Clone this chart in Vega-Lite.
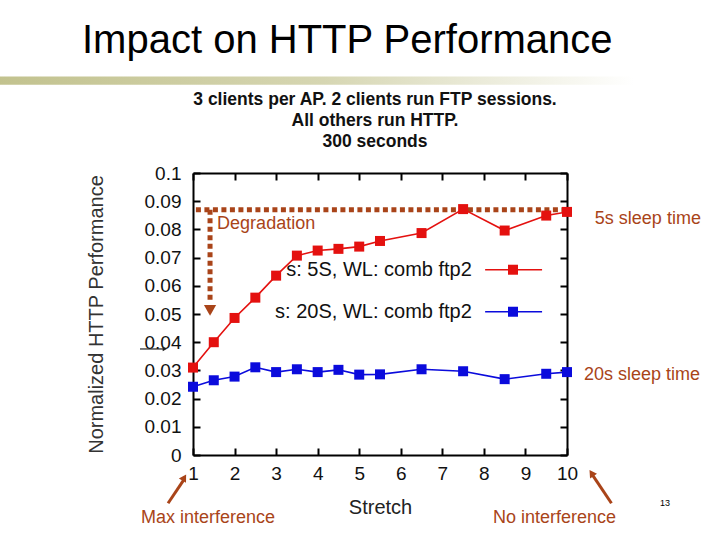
{
  "$schema": "https://vega.github.io/schema/vega-lite/v6.json",
  "width": 374,
  "height": 282,
  "autosize": "none",
  "padding": {"top": 173, "left": 193, "right": 153, "bottom": 85},
  "background": "white",
  "title": {
    "text": "Impact on HTTP Performance",
    "anchor": "start",
    "frame": "group",
    "dx": -111,
    "offset": -16,
    "baseline": "alphabetic",
    "font": "Liberation Sans",
    "fontSize": 40,
    "fontWeight": "normal",
    "color": "#000000"
  },
  "config": {
    "view": {"stroke": null},
    "axis": {
      "domainColor": "#000000",
      "domainWidth": 2,
      "tickColor": "#000000",
      "tickWidth": 2,
      "tickSize": -7,
      "grid": false,
      "labelFlush": false,
      "labelFont": "Liberation Sans",
      "labelFontSize": 19,
      "labelColor": "#111111",
      "titleFont": "Liberation Sans",
      "titleFontWeight": "normal",
      "titleColor": "#333333"
    },
    "text": {"font": "Liberation Sans"}
  },
  "datasets": {
    "perf": [
      {"stretch": 1, "perf": 0.0310, "series": "s: 5S, WL: comb ftp2"},
      {"stretch": 1.5, "perf": 0.0400, "series": "s: 5S, WL: comb ftp2"},
      {"stretch": 2, "perf": 0.0486, "series": "s: 5S, WL: comb ftp2"},
      {"stretch": 2.5, "perf": 0.0558, "series": "s: 5S, WL: comb ftp2"},
      {"stretch": 3, "perf": 0.0636, "series": "s: 5S, WL: comb ftp2"},
      {"stretch": 3.5, "perf": 0.0707, "series": "s: 5S, WL: comb ftp2"},
      {"stretch": 4, "perf": 0.0725, "series": "s: 5S, WL: comb ftp2"},
      {"stretch": 4.5, "perf": 0.0731, "series": "s: 5S, WL: comb ftp2"},
      {"stretch": 5, "perf": 0.0739, "series": "s: 5S, WL: comb ftp2"},
      {"stretch": 5.5, "perf": 0.0759, "series": "s: 5S, WL: comb ftp2"},
      {"stretch": 6.5, "perf": 0.0787, "series": "s: 5S, WL: comb ftp2"},
      {"stretch": 7.5, "perf": 0.0872, "series": "s: 5S, WL: comb ftp2"},
      {"stretch": 8.5, "perf": 0.0796, "series": "s: 5S, WL: comb ftp2"},
      {"stretch": 9.5, "perf": 0.0849, "series": "s: 5S, WL: comb ftp2"},
      {"stretch": 10, "perf": 0.0862, "series": "s: 5S, WL: comb ftp2"},
      {"stretch": 1, "perf": 0.0242, "series": "s: 20S, WL: comb ftp2"},
      {"stretch": 1.5, "perf": 0.0265, "series": "s: 20S, WL: comb ftp2"},
      {"stretch": 2, "perf": 0.0278, "series": "s: 20S, WL: comb ftp2"},
      {"stretch": 2.5, "perf": 0.0311, "series": "s: 20S, WL: comb ftp2"},
      {"stretch": 3, "perf": 0.0294, "series": "s: 20S, WL: comb ftp2"},
      {"stretch": 3.5, "perf": 0.0304, "series": "s: 20S, WL: comb ftp2"},
      {"stretch": 4, "perf": 0.0294, "series": "s: 20S, WL: comb ftp2"},
      {"stretch": 4.5, "perf": 0.0302, "series": "s: 20S, WL: comb ftp2"},
      {"stretch": 5, "perf": 0.0285, "series": "s: 20S, WL: comb ftp2"},
      {"stretch": 5.5, "perf": 0.0286, "series": "s: 20S, WL: comb ftp2"},
      {"stretch": 6.5, "perf": 0.0304, "series": "s: 20S, WL: comb ftp2"},
      {"stretch": 7.5, "perf": 0.0297, "series": "s: 20S, WL: comb ftp2"},
      {"stretch": 8.5, "perf": 0.0269, "series": "s: 20S, WL: comb ftp2"},
      {"stretch": 9.5, "perf": 0.0288, "series": "s: 20S, WL: comb ftp2"},
      {"stretch": 10, "perf": 0.0294, "series": "s: 20S, WL: comb ftp2"}
    ],
    "legend": [
      {"tx": 7.71, "lx1": 8.03, "lx2": 9.4, "px": 8.7, "y": 0.0657, "series": "s: 5S, WL: comb ftp2"},
      {"tx": 7.71, "lx1": 8.03, "lx2": 9.4, "px": 8.7, "y": 0.0508, "series": "s: 20S, WL: comb ftp2"}
    ]
  },
  "resolve": {"axis": {"x": "independent", "y": "independent"}},
  "layer": [
    {
      "data": {"values": [{"x": -3.7, "x2": 13.7, "y": 0.1342, "y2": 0.1313}]},
      "mark": {
        "type": "rect",
        "color": {
          "gradient": "linear",
          "x1": 0, "x2": 1, "y1": 0, "y2": 0,
          "stops": [
            {"offset": 0, "color": "#c2c28e"},
            {"offset": 0.45, "color": "#d6d6b2"},
            {"offset": 0.88, "color": "#ffffff"},
            {"offset": 1, "color": "#ffffff"}
          ]
        }
      },
      "encoding": {
        "x": {"field": "x", "type": "quantitative", "scale": {"domain": [1, 10], "nice": false, "zero": false}, "axis": null},
        "x2": {"field": "x2"},
        "y": {"field": "y", "type": "quantitative", "scale": {"domain": [0, 0.1], "nice": false, "zero": false}, "axis": null},
        "y2": {"field": "y2"}
      }
    },
    {
      "data": {"values": [
        {"x": 1.07, "x2": 10.0, "y": 0.0870, "y2": 0.0870},
        {"x": 1.41, "x2": 1.41, "y": 0.0870, "y2": 0.0545}
      ]},
      "mark": {"type": "rule", "color": "#a94419", "strokeWidth": 5, "strokeDash": [5, 3.5]},
      "encoding": {
        "x": {"field": "x", "type": "quantitative", "axis": null},
        "x2": {"field": "x2"},
        "y": {"field": "y", "type": "quantitative", "axis": null},
        "y2": {"field": "y2"}
      }
    },
    {
      "data": {"values": [{"x": 1.41, "y": 0.0513}]},
      "mark": {"type": "point", "shape": "triangle-down", "filled": true, "color": "#a94419", "size": 150, "opacity": 1},
      "encoding": {
        "x": {"field": "x", "type": "quantitative", "axis": null},
        "y": {"field": "y", "type": "quantitative", "axis": null}
      }
    },
    {
      "data": {"name": "perf"},
      "mark": {"type": "line", "strokeWidth": 1.6},
      "encoding": {
        "x": {"field": "stretch", "type": "quantitative", "title": "Stretch",
              "axis": {"orient": "bottom", "values": [1,2,3,4,5,6,7,8,9,10], "labelPadding": 16, "titleFontSize": 20, "titlePadding": 14, "titleColor": "#222222"}},
        "y": {"field": "perf", "type": "quantitative", "title": "Normalized HTTP Performance",
              "axis": {"orient": "left", "values": [0,0.01,0.02,0.03,0.04,0.05,0.06,0.07,0.08,0.09,0.1], "format": ".2~f", "labelPadding": 19, "titleFontSize": 20, "titlePadding": 38}},
        "color": {"field": "series", "type": "nominal",
                  "scale": {"domain": ["s: 5S, WL: comb ftp2", "s: 20S, WL: comb ftp2"], "range": ["#e4110f", "#0b0bdc"]},
                  "legend": null}
      }
    },
    {
      "data": {"name": "perf"},
      "mark": {"type": "point", "shape": "square", "filled": true, "size": 100, "opacity": 1},
      "encoding": {
        "x": {"field": "stretch", "type": "quantitative",
              "axis": {"orient": "top", "values": [1,2,3,4,5,6,7,8,9,10], "labels": false, "title": null}},
        "y": {"field": "perf", "type": "quantitative",
              "axis": {"orient": "right", "values": [0,0.01,0.02,0.03,0.04,0.05,0.06,0.07,0.08,0.09,0.1], "labels": false, "title": null}},
        "color": {"field": "series", "type": "nominal", "legend": null}
      }
    },
    {
      "data": {"name": "legend"},
      "mark": {"type": "text", "align": "right", "baseline": "middle", "fontSize": 20, "color": "#111111"},
      "encoding": {
        "x": {"field": "tx", "type": "quantitative", "axis": null},
        "y": {"field": "y", "type": "quantitative", "axis": null},
        "text": {"field": "series"}
      }
    },
    {
      "data": {"name": "legend"},
      "mark": {"type": "rule", "strokeWidth": 1.6},
      "encoding": {
        "x": {"field": "lx1", "type": "quantitative", "axis": null},
        "x2": {"field": "lx2"},
        "y": {"field": "y", "type": "quantitative", "axis": null},
        "color": {"field": "series", "type": "nominal", "legend": null}
      }
    },
    {
      "data": {"name": "legend"},
      "mark": {"type": "point", "shape": "square", "filled": true, "size": 100, "opacity": 1},
      "encoding": {
        "x": {"field": "px", "type": "quantitative", "axis": null},
        "y": {"field": "y", "type": "quantitative", "axis": null},
        "color": {"field": "series", "type": "nominal", "legend": null}
      }
    },
    {
      "data": {"values": [
        {"x": 1.58, "y": 0.0820, "label": "Degradation"},
        {"x": 10.67, "y": 0.0838, "label": "5s sleep time"},
        {"x": 10.41, "y": 0.0284, "label": "20s sleep time"},
        {"x": -0.25, "y": -0.0224, "label": "Max interference"},
        {"x": 8.22, "y": -0.0224, "label": "No interference"}
      ]},
      "mark": {"type": "text", "align": "left", "baseline": "middle", "fontSize": 18, "color": "#a94419"},
      "encoding": {
        "x": {"field": "x", "type": "quantitative", "axis": null},
        "y": {"field": "y", "type": "quantitative", "axis": null},
        "text": {"field": "label"}
      }
    },
    {
      "data": {"values": [{"x": 12.36, "y": -0.0170, "label": "13"}]},
      "mark": {"type": "text", "align": "center", "baseline": "middle", "fontSize": 9, "color": "#000000"},
      "encoding": {
        "x": {"field": "x", "type": "quantitative", "axis": null},
        "y": {"field": "y", "type": "quantitative", "axis": null},
        "text": {"field": "label"}
      }
    },
    {
      "data": {"values": [
        {"x": 0.40, "x2": 0.77, "y": -0.0171, "y2": -0.0090},
        {"x": 11.07, "x2": 10.62, "y": -0.0171, "y2": -0.0072}
      ]},
      "mark": {"type": "rule", "color": "#a94419", "strokeWidth": 3},
      "encoding": {
        "x": {"field": "x", "type": "quantitative", "axis": null},
        "x2": {"field": "x2"},
        "y": {"field": "y", "type": "quantitative", "axis": null},
        "y2": {"field": "y2"}
      }
    },
    {
      "data": {"values": [{"x": 0.79, "y": -0.0080}]},
      "mark": {"type": "point", "shape": "triangle-up", "filled": true, "color": "#a94419", "size": 70, "angle": 31, "opacity": 1},
      "encoding": {
        "x": {"field": "x", "type": "quantitative", "axis": null},
        "y": {"field": "y", "type": "quantitative", "axis": null}
      }
    },
    {
      "data": {"values": [{"x": 10.59, "y": -0.0064}]},
      "mark": {"type": "point", "shape": "triangle-up", "filled": true, "color": "#a94419", "size": 70, "angle": 326, "opacity": 1},
      "encoding": {
        "x": {"field": "x", "type": "quantitative", "axis": null},
        "y": {"field": "y", "type": "quantitative", "axis": null}
      }
    },
    {
      "data": {"values": [{"x": -0.275, "x2": 0.33, "y": 0.0376}]},
      "mark": {"type": "rule", "color": "#222222", "strokeWidth": 1.2},
      "encoding": {
        "x": {"field": "x", "type": "quantitative", "axis": null},
        "x2": {"field": "x2"},
        "y": {"field": "y", "type": "quantitative", "axis": null}
      }
    },
    {
      "data": {"values": [{"x": 0.32, "y": 0.0376}]},
      "mark": {"type": "point", "shape": "triangle-right", "filled": true, "color": "#222222", "size": 22, "opacity": 1},
      "encoding": {
        "x": {"field": "x", "type": "quantitative", "axis": null},
        "y": {"field": "y", "type": "quantitative", "axis": null}
      }
    },
    {
      "data": {"values": [
        {"x": 5.38, "y": 0.1260, "label": "3 clients per AP. 2 clients run FTP sessions."},
        {"x": 5.38, "y": 0.1186, "label": "All others run HTTP."},
        {"x": 5.38, "y": 0.1111, "label": "300 seconds"}
      ]},
      "mark": {"type": "text", "align": "center", "baseline": "middle", "fontSize": 17.5, "fontWeight": "bold", "font": "Liberation Sans", "color": "#111111"},
      "encoding": {
        "x": {"field": "x", "type": "quantitative", "axis": null},
        "y": {"field": "y", "type": "quantitative", "axis": null},
        "text": {"field": "label"}
      }
    }
  ]
}
